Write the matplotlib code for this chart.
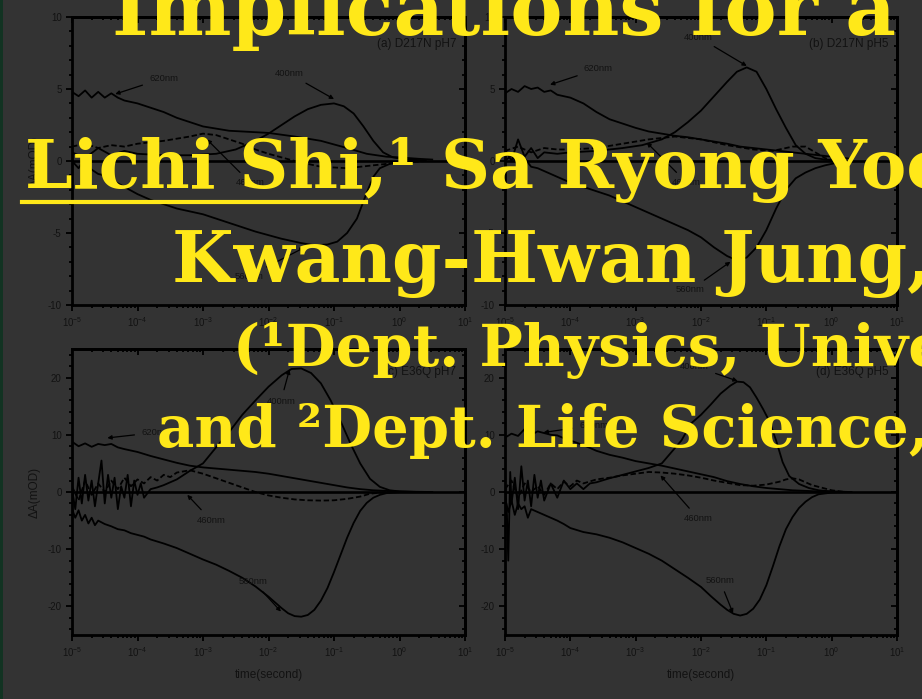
import numpy as np
import matplotlib
matplotlib.use('Agg')
import matplotlib.pyplot as plt
from matplotlib.lines import Line2D
from matplotlib.patches import Rectangle
from matplotlib.ticker import LogLocator, MultipleLocator, NullFormatter

plt.rcParams['font.family'] = ['Liberation Sans', 'DejaVu Sans']
plt.rcParams['mathtext.fontset'] = 'custom'
plt.rcParams['mathtext.rm'] = 'Liberation Sans'
plt.rcParams['mathtext.it'] = 'Liberation Sans:italic'
plt.rcParams['mathtext.bf'] = 'Liberation Sans:bold'
plt.rcParams['axes.unicode_minus'] = False

# ---------------- data (log10 time, mOD) ----------------
# panel (a) D217N pH7
a620_lt = [-5.0,-4.9,-4.8,-4.7,-4.6,-4.5,-4.4,-4.3,-4.2,-4.0,-3.8,-3.6,-3.4,-3.2,-3.0,-2.6,-2.2,-2.0,-1.6,-1.2,-0.8,-0.5,-0.2,0.0,0.3,0.5]
a620_v  = [4.8,4.5,4.9,4.4,4.8,4.4,4.7,4.4,4.2,4.0,3.7,3.4,3.0,2.7,2.4,2.1,2.0,1.95,1.7,1.4,0.9,0.5,0.3,0.25,0.15,0.1]
a400_lt = [-5.0,-4.8,-4.6,-4.4,-4.2,-4.0,-3.6,-3.2,-2.8,-2.5,-2.2,-2.0,-1.8,-1.6,-1.4,-1.2,-1.0,-0.85,-0.7,-0.55,-0.4,-0.25,-0.1,0.1,0.4]
a400_v  = [0.6,0.2,0.9,0.4,0.7,0.5,0.4,0.4,0.5,0.8,1.4,1.9,2.5,3.1,3.6,3.9,4.0,3.8,3.3,2.4,1.4,0.6,0.25,0.1,0.05]
a460_lt = [-5.0,-4.8,-4.6,-4.4,-4.2,-4.0,-3.6,-3.2,-3.0,-2.8,-2.6,-2.4,-2.2,-2.0,-1.6,-1.2,-0.8,-0.4,0.0,0.4]
a460_v  = [1.0,1.2,0.9,1.1,1.0,1.2,1.4,1.7,1.9,1.8,1.5,1.2,0.8,0.5,0.0,-0.4,-0.5,-0.3,-0.1,0.0]
a560_lt = [-5.0,-4.9,-4.8,-4.7,-4.6,-4.5,-4.4,-4.2,-4.0,-3.8,-3.6,-3.4,-3.2,-3.0,-2.6,-2.2,-1.8,-1.5,-1.3,-1.1,-0.95,-0.8,-0.65,-0.5,-0.4,-0.3,-0.15,0.0,0.3]
a560_v  = [0.0,-0.5,0.2,-0.6,-0.9,-1.0,-1.3,-1.8,-2.3,-2.7,-3.0,-3.3,-3.5,-3.7,-4.3,-4.9,-5.4,-5.7,-5.85,-5.8,-5.6,-5.0,-4.0,-2.2,-1.1,-0.5,-0.2,-0.1,0.0]

# panel (b) D217N pH5
b620_lt = [-5.0,-4.9,-4.8,-4.7,-4.6,-4.5,-4.4,-4.3,-4.2,-4.0,-3.8,-3.6,-3.4,-3.2,-3.0,-2.8,-2.6,-2.4,-2.2,-2.0,-1.8,-1.6,-1.4,-1.2,-1.0,-0.8,-0.6,-0.4,-0.2,0.0,0.3]
b620_v  = [4.7,5.0,4.8,5.2,5.0,5.1,4.8,4.9,4.6,4.4,4.0,3.4,2.9,2.6,2.3,2.05,1.9,1.75,1.65,1.5,1.35,1.2,1.0,0.9,0.8,0.7,0.6,0.5,0.4,0.3,0.15]
b400_lt = [-5.0,-4.9,-4.8,-4.7,-4.6,-4.5,-4.4,-4.2,-4.0,-3.6,-3.2,-2.9,-2.6,-2.4,-2.2,-2.0,-1.8,-1.6,-1.45,-1.3,-1.15,-1.0,-0.85,-0.7,-0.55,-0.4,-0.25,-0.1,0.2]
b400_v  = [0.8,0.0,1.5,0.3,0.9,0.2,0.6,0.5,0.6,0.7,0.9,1.1,1.5,2.0,2.7,3.5,4.5,5.5,6.2,6.5,6.2,5.0,3.6,2.3,1.1,0.5,0.2,0.1,0.0]
b460_lt = [-5.0,-4.8,-4.6,-4.4,-4.2,-4.0,-3.6,-3.2,-2.8,-2.4,-2.0,-1.6,-1.2,-0.9,-0.6,-0.4,-0.25,-0.1,0.1]
b460_v  = [0.7,1.0,0.6,0.9,0.8,0.8,0.9,1.2,1.5,1.7,1.5,1.1,0.8,0.7,1.0,1.0,0.6,0.2,0.0]
b560_lt = [-5.0,-4.9,-4.8,-4.7,-4.6,-4.5,-4.4,-4.2,-4.0,-3.8,-3.6,-3.4,-3.2,-3.0,-2.8,-2.6,-2.4,-2.2,-2.0,-1.8,-1.6,-1.45,-1.3,-1.15,-1.0,-0.85,-0.7,-0.55,-0.4,-0.25,-0.1,0.1,0.3]
b560_v  = [0.0,0.4,-0.3,0.2,-0.4,-0.5,-0.7,-1.1,-1.5,-1.8,-2.1,-2.4,-2.8,-3.2,-3.6,-4.0,-4.4,-4.8,-5.3,-6.0,-6.6,-6.9,-6.7,-6.0,-4.8,-3.3,-2.0,-1.2,-0.8,-0.5,-0.3,-0.1,0.0]

# panel (c) E36Q pH7
c620_lt = [-5.0,-4.9,-4.8,-4.7,-4.6,-4.5,-4.4,-4.3,-4.2,-4.0,-3.8,-3.6,-3.4,-3.2,-3.0,-2.8,-2.6,-2.4,-2.2,-2.0,-1.8,-1.6,-1.4,-1.2,-1.0,-0.8,-0.6,-0.4,-0.2,0.0,0.2,0.5]
c620_v  = [8.8,8.0,8.5,7.9,8.4,8.2,8.4,7.8,7.5,7.0,6.3,5.7,5.1,4.6,4.3,4.1,3.9,3.7,3.5,3.2,2.8,2.4,2.0,1.6,1.2,0.8,0.5,0.3,0.2,0.1,0.05,0.0]
c400_lt = [-5.0,-4.95,-4.9,-4.85,-4.8,-4.75,-4.7,-4.65,-4.6,-4.55,-4.5,-4.45,-4.4,-4.35,-4.3,-4.25,-4.2,-4.15,-4.1,-4.05,-4.0,-3.95,-3.9,-3.8,-3.7,
           -3.6,-3.4,-3.2,-3.0,-2.8,-2.6,-2.4,-2.2,-2.0,-1.8,-1.65,-1.5,-1.35,-1.2,-1.05,-0.9,-0.75,-0.6,-0.45,-0.3,-0.15,0.0,0.3]
c400_v  = [0.5,-3.0,2.5,-2.0,3.0,-1.5,2.0,-2.5,1.5,5.5,-2.0,3.0,-1.0,2.5,-3.0,1.0,-1.0,3.0,-2.5,2.0,-0.5,1.5,-1.0,0.5,0.8,
           1.2,2.2,3.7,5.0,7.8,10.5,13.5,16.0,18.4,20.4,21.5,21.6,20.8,19.0,16.0,12.4,8.5,5.0,2.3,0.9,0.3,0.1,0.0]
c460_lt = [-5.0,-4.9,-4.8,-4.7,-4.6,-4.5,-4.4,-4.3,-4.2,-4.1,-4.0,-3.9,-3.8,-3.7,-3.6,-3.5,-3.4,-3.3,-3.2,-3.0,-2.8,-2.6,-2.4,-2.2,-2.0,-1.8,-1.6,-1.4,-1.2,-1.0,-0.8,-0.6,-0.45,-0.3,-0.15,0.0]
c460_v  = [1.0,-1.5,2.0,-0.5,1.5,0.0,2.0,0.5,2.5,1.0,2.2,1.5,2.6,2.0,3.0,2.6,3.4,3.6,3.8,3.2,2.4,1.6,0.8,0.0,-0.6,-1.0,-1.3,-1.45,-1.5,-1.45,-1.2,-0.8,-0.3,-0.1,0.0,0.0]
c560_lt = [-5.0,-4.95,-4.9,-4.85,-4.8,-4.75,-4.7,-4.65,-4.6,-4.5,-4.4,-4.3,-4.2,-4.1,-4.0,-3.9,-3.8,-3.6,-3.4,-3.2,-3.0,-2.8,-2.6,-2.4,-2.2,-2.0,-1.9,-1.8,-1.7,-1.6,-1.5,-1.4,-1.3,-1.2,-1.1,-1.0,-0.9,-0.8,-0.7,-0.6,-0.5,-0.4,-0.3,-0.2,0.0,0.3]
c560_v  = [-3.0,-4.5,-3.2,-5.0,-4.0,-5.5,-4.5,-5.8,-5.0,-5.6,-6.0,-6.5,-6.7,-7.2,-7.5,-7.8,-8.3,-9.0,-9.8,-10.8,-11.8,-12.7,-13.8,-15.0,-16.5,-18.3,-19.3,-20.3,-21.2,-21.7,-21.8,-21.5,-20.6,-19.0,-16.8,-14.0,-11.0,-8.0,-5.4,-3.3,-1.9,-1.0,-0.5,-0.2,0.0,0.0]

# panel (d) E36Q pH5
d620_lt = [-5.0,-4.9,-4.8,-4.7,-4.6,-4.5,-4.4,-4.3,-4.2,-4.1,-4.0,-3.9,-3.8,-3.6,-3.4,-3.2,-3.0,-2.8,-2.6,-2.4,-2.2,-2.0,-1.8,-1.6,-1.4,-1.2,-1.0,-0.8,-0.6,-0.4,-0.2,0.0,0.3]
d620_v  = [9.5,10.2,9.8,11.0,10.0,10.6,10.3,10.0,9.9,9.4,9.0,8.6,8.2,7.2,6.5,6.0,5.4,5.0,4.6,4.1,3.6,3.1,2.6,1.9,1.4,1.0,0.7,0.5,0.3,0.2,0.1,0.05,0.0]
d400_lt = [-5.0,-4.97,-4.95,-4.92,-4.9,-4.85,-4.8,-4.75,-4.7,-4.65,-4.6,-4.55,-4.5,-4.45,-4.4,-4.3,-4.2,-4.1,-4.0,-3.9,-3.8,-3.7,-3.6,-3.4,-3.2,-3.0,-2.8,-2.6,-2.45,-2.3,-2.15,-2.0,-1.85,-1.7,-1.55,-1.45,-1.35,-1.25,-1.15,-1.05,-0.95,-0.85,-0.75,-0.65,-0.5,-0.35,-0.2,0.0,0.3]
d400_v  = [1.0,-4.0,-12.0,3.5,-2.0,2.5,-3.0,4.5,-1.5,2.0,-2.5,3.0,-1.0,2.0,-1.5,1.5,-1.0,2.0,0.5,1.5,0.5,1.5,1.7,2.4,3.0,3.6,4.2,5.0,7.0,9.0,12.0,13.5,15.3,17.2,18.6,19.3,19.2,18.3,16.5,14.5,12.3,9.0,5.2,2.8,1.4,0.7,0.3,0.1,0.0]
d460_lt = [-5.0,-4.9,-4.8,-4.7,-4.6,-4.5,-4.4,-4.3,-4.2,-4.1,-4.0,-3.9,-3.8,-3.6,-3.4,-3.2,-3.0,-2.8,-2.6,-2.4,-2.2,-2.0,-1.8,-1.6,-1.4,-1.2,-1.0,-0.8,-0.7,-0.6,-0.5,-0.4,-0.3,-0.2,-0.1,0.0,0.2]
d460_v  = [0.5,2.0,-1.0,1.5,0.0,1.0,-0.5,1.5,0.5,1.8,1.0,2.0,1.5,2.2,2.5,2.9,3.2,3.5,3.4,3.2,2.9,2.5,2.0,1.6,1.2,1.1,1.3,1.8,2.2,2.4,2.2,1.7,1.2,0.9,0.6,0.3,0.0]
d560_lt = [-5.0,-4.95,-4.9,-4.85,-4.8,-4.75,-4.7,-4.65,-4.6,-4.5,-4.4,-4.3,-4.2,-4.1,-4.0,-3.8,-3.6,-3.4,-3.2,-3.0,-2.8,-2.6,-2.4,-2.2,-2.0,-1.85,-1.7,-1.6,-1.5,-1.4,-1.3,-1.2,-1.1,-1.0,-0.9,-0.8,-0.7,-0.6,-0.5,-0.4,-0.3,-0.2,0.0,0.2]
d560_v  = [-1.0,-3.5,-1.5,-4.0,-2.0,-3.0,-2.5,-4.5,-3.0,-3.5,-4.0,-4.5,-5.0,-5.6,-6.3,-7.0,-7.4,-8.0,-8.8,-9.8,-10.8,-12.0,-13.5,-15.0,-16.6,-18.2,-19.7,-20.6,-21.3,-21.6,-21.3,-20.4,-18.8,-16.3,-13.0,-9.5,-6.5,-4.4,-2.8,-1.7,-0.9,-0.4,-0.1,0.0]

panel_titles = ['(a) D217N pH7', '(b) D217N pH5', '(c) E36Q pH7', '(d) E36Q pH5']
wavelengths = ['620nm', '400nm', '460nm', '560nm']
x_label = 'time(second)'
y_label = '\u0394A(mOD)'

title_lines = ['Implications for a Proton',
               'Lichi Shi,\u00b9 Sa Ryong Yoon,\u00b2',
               'Kwang-Hwan Jung,\u00b2 Leonid S. Brown\u00b9',
               '(\u00b9Dept. Physics, University of Guelph,',
               'and \u00b2Dept. Life Science, Sogang University)']

# ---------------- layout ----------------
W, H = 922, 699
BG = '#333333'
INK = '#121212'
YEL = '#FFE819'

def fx(px):
    return px / W

def fy(py):
    return 1 - py / H

fig = plt.figure(figsize=(W / 100, H / 100), dpi=100, facecolor=BG)
fig.add_artist(Rectangle((0, 0), fx(2.5), 1, transform=fig.transFigure,
                         facecolor='#123322', edgecolor='none'))

panels = [
    dict(box=(72, 17, 465, 305), ylim=(-10, 10), ymaj=5, ymin=1,
         curves=[(a620_lt, a620_v, '-'), (a400_lt, a400_v, '-'), (a460_lt, a460_v, '--'), (a560_lt, a560_v, '-')],
         labels=[((-3.6, 5.75), (-4.34, 4.65)), ((-1.68, 6.05), (-1.0, 4.3)),
                 ((-2.28, -1.5), (-2.94, 1.5)), ((-2.3, -8.0), (-1.45, -6.0))],
         title_y=8.15, xlabel=False, ylabel=True),
    dict(box=(505, 17, 897, 305), ylim=(-10, 10), ymaj=5, ymin=1,
         curves=[(b620_lt, b620_v, '-'), (b400_lt, b400_v, '-'), (b460_lt, b460_v, '--'), (b560_lt, b560_v, '-')],
         labels=[((-3.57, 6.4), (-4.31, 5.3)), ((-2.04, 8.6), (-1.3, 6.6)),
                 ((-2.22, -1.5), (-2.83, 1.28)), ((-2.16, -8.95), (-1.55, -7.0))],
         title_y=8.1, xlabel=False, ylabel=False),
    dict(box=(72, 349, 465, 635), ylim=(-25, 25), ymaj=10, ymin=2,
         curves=[(c620_lt, c620_v, '-'), (c400_lt, c400_v, '-'), (c460_lt, c460_v, '--'), (c560_lt, c560_v, '-')],
         labels=[((-3.72, 10.4), (-4.46, 9.45)), ((-1.81, 15.9), (-1.68, 21.4)),
                 ((-2.88, -4.9), (-3.24, -0.5)), ((-2.23, -15.65), (-1.81, -20.9))],
         title_y=20.9, xlabel=True, ylabel=True),
    dict(box=(505, 349, 897, 635), ylim=(-25, 25), ymaj=10, ymin=2,
         curves=[(d620_lt, d620_v, '-'), (d400_lt, d400_v, '-'), (d460_lt, d460_v, '--'), (d560_lt, d560_v, '-')],
         labels=[((-3.64, 11.7), (-4.41, 10.4)), ((-2.1, 22.0), (-1.44, 19.4)),
                 ((-2.04, -4.65), (-2.62, 2.9)), ((-1.71, -15.5), (-1.51, -21.2))],
         title_y=20.9, xlabel=True, ylabel=False),
]

for i, p in enumerate(panels):
    l, t, r, b = p['box']
    ax = fig.add_axes([fx(l), fy(b), fx(r) - fx(l), (b - t) / H])
    ax.set_facecolor('none')
    ax.set_xscale('log')
    ax.set_xlim(1e-5, 1e1)
    ax.set_ylim(*p['ylim'])
    for s in ax.spines.values():
        s.set_linewidth(2.0)
        s.set_color('k')
    ax.axhline(0, color='k', lw=1.9, zorder=1)
    for lt, v, ls in p['curves']:
        x = 10 ** np.asarray(lt)
        if ls == '--':
            ax.plot(x, v, color='k', lw=1.3, ls=(0, (3, 1.5)), zorder=3)
        else:
            ax.plot(x, v, color='k', lw=1.3, zorder=3)
    for name, (txy, tip) in zip(wavelengths, p['labels']):
        ax.annotate(name, xy=(10 ** tip[0], tip[1]), xytext=(10 ** txy[0], txy[1]),
                    ha='center', va='center', fontsize=6.8, color=INK,
                    arrowprops=dict(arrowstyle='-|>', color='k', lw=0.9,
                                    mutation_scale=6, shrinkA=3, shrinkB=0))
    ax.text(10 ** 0.87, p['title_y'], panel_titles[i], ha='right', va='center',
            fontsize=8.5, color=INK)
    # ticks
    ax.xaxis.set_major_locator(LogLocator(base=10, numticks=10))
    ax.xaxis.set_minor_locator(LogLocator(base=10, subs=np.arange(2, 10), numticks=20))
    ax.xaxis.set_minor_formatter(NullFormatter())
    ax.yaxis.set_major_locator(MultipleLocator(p['ymaj']))
    ax.yaxis.set_minor_locator(MultipleLocator(p['ymin']))
    ax.tick_params(which='both', direction='out', colors='k', labelcolor=INK,
                   labelsize=7, width=1.3)
    ax.tick_params(which='major', length=4.5, pad=3)
    ax.tick_params(which='minor', length=2.5)
    sx = ax.secondary_xaxis('top')
    sx.set_xscale('log')
    sx.xaxis.set_major_locator(LogLocator(base=10, numticks=10))
    sx.xaxis.set_minor_locator(LogLocator(base=10, subs=np.arange(2, 10), numticks=20))
    sx.tick_params(which='both', direction='in', labeltop=False, width=1.3)
    sx.tick_params(which='major', length=4.5)
    sx.tick_params(which='minor', length=2.5)
    sx.spines['top'].set_linewidth(2.0)
    sy = ax.secondary_yaxis('right')
    sy.yaxis.set_major_locator(MultipleLocator(p['ymaj']))
    sy.yaxis.set_minor_locator(MultipleLocator(p['ymin']))
    sy.tick_params(which='both', direction='in', labelright=False, width=1.3)
    sy.tick_params(which='major', length=4.5)
    sy.tick_params(which='minor', length=2.5)
    sy.spines['right'].set_linewidth(2.0)
    if p['xlabel']:
        ax.set_xlabel(x_label, fontsize=8.5, color=INK, labelpad=7)
    if p['ylabel']:
        ax.set_ylabel(y_label, fontsize=8.5, color=INK, labelpad=5)

# ---------------- overlay title text ----------------
serif = ['DejaVu Serif']
title_pos = [(112, 35, 56.4), (25, 188, 49), (172, 282, 51), (233, 366, 41.5), (157, 447, 41.5)]
for line, (x0, y0, fs) in zip(title_lines, title_pos):
    fig.text(fx(x0), fy(y0), line, ha='left', va='baseline', fontsize=fs,
             fontweight='bold', family=serif, color=YEL, zorder=20)
fig.add_artist(Line2D([fx(22), fx(366)], [fy(202), fy(202)], lw=3, color=YEL,
                      transform=fig.transFigure, zorder=20))

fig.savefig('out.png', dpi=100, facecolor=BG)
